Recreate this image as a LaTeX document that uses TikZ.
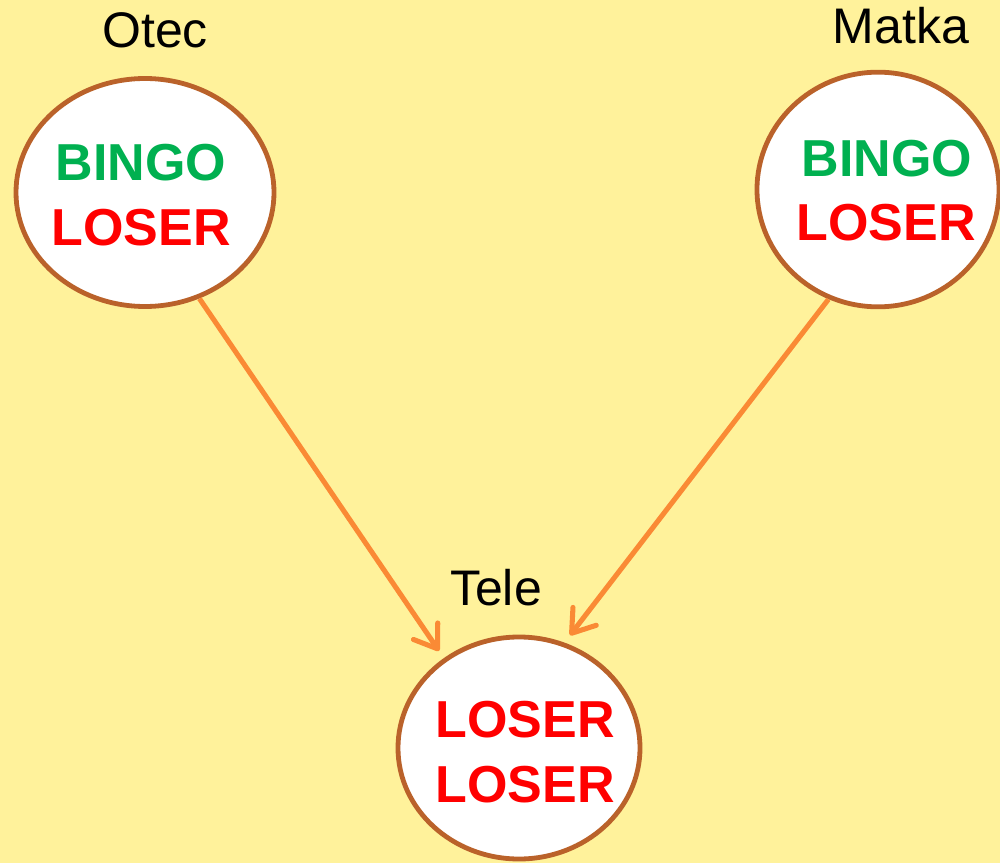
\documentclass[tikz,border=0pt]{standalone}
\usepackage{fontspec}
\setmainfont{Liberation Sans}
\usetikzlibrary{arrows.meta,shapes.geometric}
\definecolor{bgyellow}{HTML}{FFF29B}
\definecolor{ringbrown}{HTML}{BA622A}
\definecolor{arrorange}{HTML}{FA8A35}
\definecolor{bingogreen}{HTML}{00B050}
\definecolor{loserred}{HTML}{FF0000}
\begin{document}
\begin{tikzpicture}[x=0.75pt,y=-0.75pt,
  ring/.style={ellipse,draw=ringbrown,line width=3.6pt,fill=white,inner sep=0pt,outer sep=0pt},
  word/.style={anchor=base,inner sep=0pt,font=\fontsize{39}{39}\selectfont\bfseries},
  bingo/.style={word,text=bingogreen},
  loser/.style={word,text=loserred},
  personlabel/.style={anchor=base,inner sep=0pt,font=\fontsize{37.5}{37.5}\selectfont},
  arr/.style={draw=arrorange,line width=3.8pt,-{Straight Barb[length=16pt,width=22pt,round]}}]
\useasboundingbox (0,0) rectangle (1000,863);
\fill[bgyellow] (0,0) rectangle (1000,863);
\node[ring,minimum width=193.5pt,minimum height=171pt] (otec) at (145,192.5) {};
\node[ring,minimum width=181.5pt,minimum height=176pt] (matka) at (878,189.5) {};
\node[ring,minimum width=181.5pt,minimum height=166.5pt] (tele) at (519,748) {};
\draw[arr,shorten <=2pt,shorten >=8.25pt] (otec.-63.3) -- (tele.130.5);
\draw[arr,shorten <=2pt,shorten >=8.8pt] (matka.-114.8) -- (tele.67.5);
\node[bingo] (otecb) at (141,181) {BINGO};
\node[loser] (otecl) at (141,245) {LOSER};
\node[bingo] (matkab) at (887,177) {BINGO};
\node[loser] (matkal) at (886,240) {LOSER};
\node[loser] (telea) at (525,737) {LOSER};
\node[loser] (teleb) at (525,802) {LOSER};
\node[personlabel] (otecname) at (155,48) {Otec};
\node[personlabel] (matkaname) at (901,44) {Matka};
\node[personlabel] (telename) at (496,605) {Tele};
\end{tikzpicture}
\end{document}
